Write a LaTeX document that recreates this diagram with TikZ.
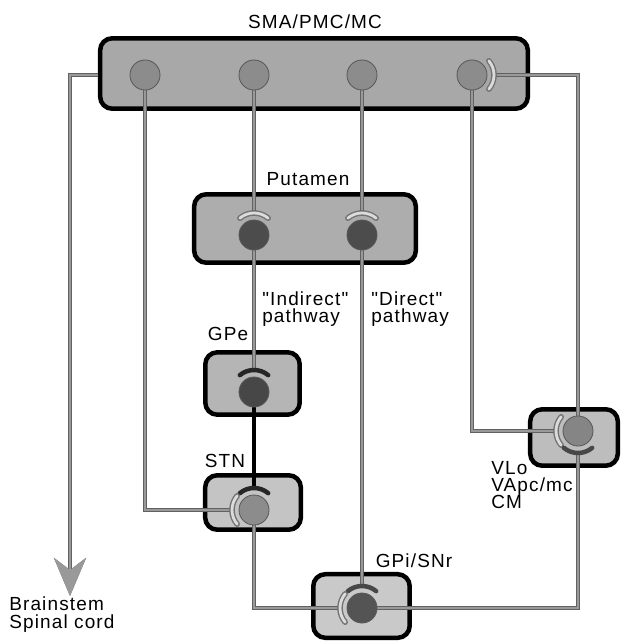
\documentclass[tikz,border=0pt]{standalone}
\usepackage{fontspec}
\setmainfont{Liberation Sans}[LetterSpace=6, Ligatures=TeXOff]
\usetikzlibrary{arrows.meta}

\pgfdeclarelayer{boxes}
\pgfdeclarelayer{wires}
\pgfsetlayers{boxes,wires,main}

\newcommand\labfont{\fontsize{13.5}{12.3}\selectfont\lineskiplimit=-20pt\relax}

\begin{document}
\begin{tikzpicture}[
    x=0.025cm, y=-0.025cm,
    every node/.style={font=\labfont, align=left, inner sep=0pt},
    box/.style={draw, line width=3.2pt, rounded corners=0.3cm, fill=black!30},
    cell/.style={circle, draw=black!65, line width=0.6pt, minimum size=0.75cm, outer sep=0.21cm},
    axon/.style={line width=3pt, draw=black!62, postaction={draw=black!40, line width=1.3pt}},
    exc/.style={line width=4pt, draw=black!55, line cap=round, postaction={draw=black!14, line width=2pt}},
    inh/.style={line width=3.2pt, draw=black!85, line cap=round}
]
\useasboundingbox (0,0) rectangle (624,642);

% Nuclei
\begin{pgfonlayer}{boxes}
\node[box, fill=black!34, minimum width=10.69cm, minimum height=1.76cm] (ctx) at (314,73.5) {};
\node[box, fill=black!32, minimum width=5.54cm, minimum height=1.71cm] (put) at (305,228.5) {};
\node[box, fill=black!29, minimum width=2.36cm, minimum height=1.56cm] (gpe) at (252.5,383.5) {};
\node[box, fill=black!23, minimum width=2.39cm, minimum height=1.36cm] (stn) at (253,502.5) {};
\node[box, fill=black!26, minimum width=2.19cm, minimum height=1.41cm] (vlo) at (574,437.5) {};
\node[box, fill=black!21, minimum width=2.41cm, minimum height=1.59cm] (gpi) at (361.5,606) {};
\end{pgfonlayer}

% Names
\node (tctx) at (315,22) {SMA/PMC/MC};
\node (tput) at (308,179) {Putamen};
\node (tgpe) at (228,334) {GPe};
\node (tstn) at (225,461) {STN};
\node (tgpi) at (414,561) {GPi/SNr};
\node[anchor=north west] (tvlo) at (491,461) {VLo\\VApc/mc\\CM};
\node[anchor=north west] (tind) at (262,291) {"Indirect"\\pathway};
\node[anchor=north west] (tdir) at (371,291) {"Direct"\\pathway};
\node[anchor=north west, font=\fontsize{13.5}{12.8}\selectfont] (tbs) at (9,596) {Brainstem\\Spinal cord};
\coordinate (tip) at (70,596);

% Cells
\node[cell, fill=black!45] (c1) at (145,75) {};
\node[cell, fill=black!45] (c2) at (254,75) {};
\node[cell, fill=black!45] (c3) at (362,75) {};
\node[cell, fill=black!45] (c4) at (472,75) {};
\node[cell, fill=black!70] (p1) at (254,235) {};
\node[cell, fill=black!70] (p2) at (362,235) {};
\node[cell, fill=black!72] (ge) at (254,392) {};
\node[cell, fill=black!45] (sn) at (254,510) {};
\node[cell, fill=black!48] (vl) at (578,431) {};
\node[cell, fill=black!67] (gi) at (362,608) {};

% Projections
\begin{pgfonlayer}{wires}
\draw[axon, -{Stealth[length=0.95cm, width=0.8cm, inset=0.3cm]}] (ctx.west |- c1) -| (tip);
\draw[axon] (c1.center) |- (sn.west);
\draw[axon] (c2.center) -- (p1.north);
\draw[axon] (c3.center) -- (p2.north);
\draw[axon] (p1.center) -- (ge.north);
\draw[line width=2.2pt] (ge.center) -- (sn.north);
\draw[axon] (p2.center) -- (gi.north);
\draw[axon] (sn.center) |- (gi.west);
\draw[axon] (gi.center) -| (vl.south);
\draw[axon] (c4.center) |- (vl.west);
\draw[axon] (vl.center) |- (c4.east);
\end{pgfonlayer}

% Terminals
\draw[exc] (p1.center) ++(-130:22) arc (-130:-50:22);
\draw[exc] (p2.center) ++(-130:22) arc (-130:-50:22);
\draw[inh] (ge.center) ++(-130:22) arc (-130:-50:22);
\draw[inh] (sn.center) ++(-130:22) arc (-130:-50:22);
\draw[exc] (sn.center) ++(140:22) arc (140:220:22);
\draw[inh, draw=black!72] (gi.center) ++(-130:22) arc (-130:-50:22);
\draw[exc] (gi.center) ++(140:22) arc (140:220:22);
\draw[exc] (vl.center) ++(140:22) arc (140:220:22);
\draw[inh, draw=black!72] (vl.center) ++(50:22) arc (50:130:22);
\draw[exc] (c4.center) ++(-40:22) arc (-40:40:22);

\end{tikzpicture}
\end{document}
